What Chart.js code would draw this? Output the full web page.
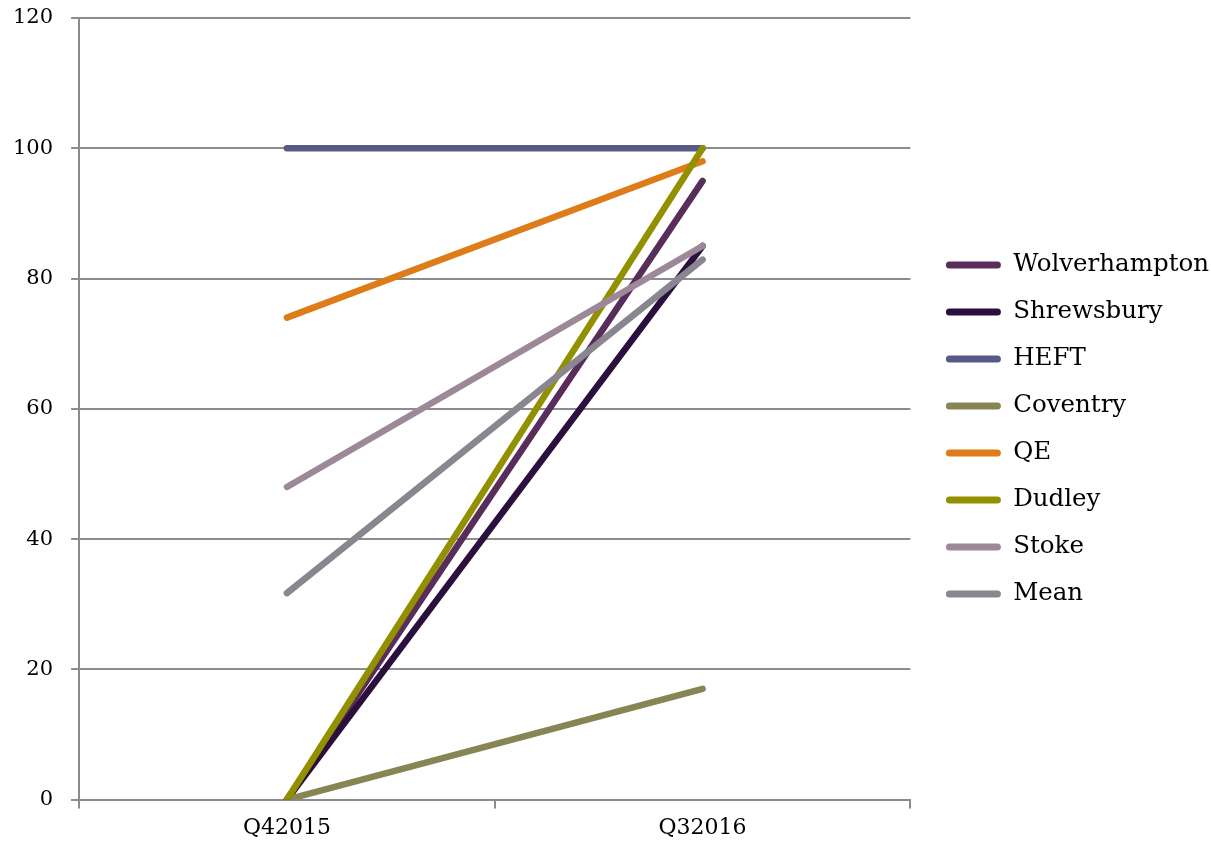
<!DOCTYPE html>
<html>
<head>
<meta charset="utf-8">
<script src="https://cdn.jsdelivr.net/npm/chart.js@4"></script>
<style>
  html, body { margin: 0; padding: 0; background: #ffffff; }
  #wrap { width: 1211px; height: 848px; }
</style>
</head>
<body>
<div id="wrap"><canvas id="grafico" width="1211" height="848"></canvas></div>
<script>
// Dados do gráfico
const trimestres = ['Q42015', 'Q32016'];
const hospitais = ['Wolverhampton', 'Shrewsbury', 'HEFT', 'Coventry', 'QE', 'Dudley', 'Stoke', 'Mean'];
const wolverhampton = [0, 95];
const shrewsbury = [0, 85];
const heft = [100, 100];
const coventry = [0, 17];
const qe = [74, 98];
const dudley = [0, 100];
const stoke = [48, 85];
const media = [31.7, 82.9];
const valores = [wolverhampton, shrewsbury, heft, coventry, qe, dudley, stoke, media];
const cores = ['#582c5b', '#2b0f3d', '#575a87', '#868553', '#df7c1a', '#939000', '#9c8899', '#8a8690'];
const ticksY = [0, 20, 40, 60, 80, 100, 120];

const familia = '"DejaVu Serif", serif';
const cinza = '#8c8c8c';

// Monta os datasets (o último fica por cima, como no original)
const datasets = hospitais.map((nome, i) => ({
    label: nome,
    data: valores[i],
    borderColor: cores[i],
    backgroundColor: cores[i],
    borderWidth: 6.5,
    borderCapStyle: 'round',
    pointRadius: 0,
    tension: 0,
    order: hospitais.length - i
}));

// Ajuste fino da posição da legenda (mais espaço entre o gráfico e a legenda)
const ajusteLegenda = {
    id: 'ajusteLegenda',
    beforeLayout(chart) {
        const leg = chart.legend;
        if (leg && !leg._ajustado) {
            const fitOriginal = leg.fit.bind(leg);
            leg.fit = function () { fitOriginal(); this.width += 5; };
            leg._ajustado = true;
        }
    },
    afterLayout(chart) {
        const leg = chart.legend;
        if (leg) {
            leg.left += 13;
            leg.right += 13;
            leg.top += 6;
            leg.bottom += 6;
        }
    }
};

const ctx = document.getElementById('grafico').getContext('2d');
const chart = new Chart(ctx, {
    type: 'line',
    data: { labels: trimestres, datasets: datasets },
    plugins: [ajusteLegenda],
    options: {
        responsive: false,
        animation: false,
        layout: { padding: { left: 0, top: 0, right: 0, bottom: 1 } },
        plugins: {
            tooltip: { enabled: false },
            legend: {
                position: 'right',
                labels: {
                    color: '#000',
                    font: { family: familia, size: 24.5 },
                    boxWidth: 55,
                    boxHeight: 7,
                    padding: 22.5,
                    useBorderRadius: true,
                    borderRadius: 3.5,
                    generateLabels: (c) => c.data.datasets.map((d, i) => ({
                        text: d.label,
                        fillStyle: d.borderColor,
                        strokeStyle: d.borderColor,
                        lineWidth: 0,
                        borderRadius: 3.5,
                        datasetIndex: i,
                        fontColor: '#000'
                    }))
                }
            }
        },
        scales: {
            x: {
                offset: true,
                grid: {
                    offset: true,
                    drawOnChartArea: false,
                    drawTicks: true,
                    tickLength: 9,
                    color: cinza,
                    lineWidth: 2
                },
                border: { color: cinza, width: 2 },
                ticks: { color: '#000', font: { family: familia, size: 22 }, padding: 6 }
            },
            y: {
                min: 0,
                max: 120,
                afterBuildTicks: (axis) => { axis.ticks = ticksY.map(v => ({ value: v })); },
                afterFit: (axis) => { axis.paddingTop = 18; axis.width -= 5; },
                grid: {
                    color: cinza,
                    lineWidth: 2,
                    drawTicks: true,
                    tickLength: 8
                },
                border: { color: cinza, width: 2 },
                ticks: { color: '#000', font: { family: familia, size: 21 }, padding: 18 }
            }
        }
    }
});
</script>
</body>
</html>
